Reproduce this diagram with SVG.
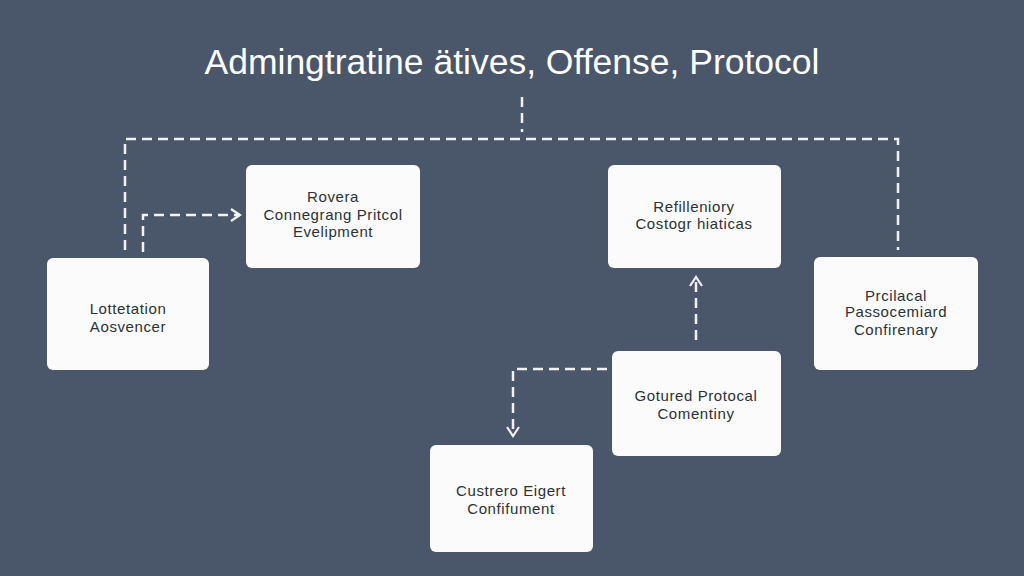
<svg xmlns="http://www.w3.org/2000/svg" width="1024" height="576" viewBox="0 0 1024 576">
<defs>
<style>
.node rect{fill:#fbfbfb;rx:6;ry:6}
.node text{font-family:"Liberation Sans",Arial,sans-serif;font-size:15px;letter-spacing:0.6px;fill:#2b3039;text-anchor:middle}
.title{font-family:"Liberation Sans",Arial,sans-serif;font-size:35.5px;fill:#ffffff;text-anchor:middle}
.conn{fill:none;stroke:#f2f2f2;stroke-width:2.5;stroke-dasharray:10 6}
</style>
<marker id="arr" viewBox="0 0 14 14" refX="12" refY="7" markerWidth="14" markerHeight="14" markerUnits="userSpaceOnUse" orient="auto">
<path d="M3,1 L12,7 L3,13" fill="none" stroke="#f2f2f2" stroke-width="2.2"/>
</marker>
</defs>
<rect width="1024" height="576" fill="#4a5669"/>
<text class="title" x="512" y="74">Admingtratine ätives, Offense, Protocol</text>
<g id="connectors">
<path class="conn" d="M522,97 V132"/>
<path class="conn" d="M125,250 V139 H898 V250"/>
<path class="conn" d="M143,252 V215 H240" marker-end="url(#arr)"/>
<path class="conn" d="M696,340 V277" marker-end="url(#arr)"/>
<path class="conn" d="M607,369 H513 V436" marker-end="url(#arr)"/>
</g>
<g id="n1" class="node"><rect x="47" y="258" width="162" height="112"/><text x="128" y="314">Lottetation</text><text x="128" y="332">Aosvencer</text></g>
<g id="n2" class="node"><rect x="246" y="165" width="174" height="103"/><text x="333" y="202">Rovera</text><text x="333" y="220">Connegrang Pritcol</text><text x="333" y="237">Evelipment</text></g>
<g id="n3" class="node"><rect x="608" y="165" width="173" height="103"/><text x="694" y="212">Refilleniory</text><text x="694" y="229">Costogr hiaticas</text></g>
<g id="n4" class="node"><rect x="814" y="257" width="164" height="113"/><text x="896" y="301">Prcilacal</text><text x="896" y="317">Passocemiard</text><text x="896" y="335">Confirenary</text></g>
<g id="n5" class="node"><rect x="612" y="351" width="169" height="105"/><text x="696" y="401">Gotured Protocal</text><text x="696" y="419">Comentiny</text></g>
<g id="n6" class="node"><rect x="430" y="445" width="163" height="107"/><text x="511" y="496">Custrero Eigert</text><text x="511" y="514">Confifument</text></g>
</svg>
